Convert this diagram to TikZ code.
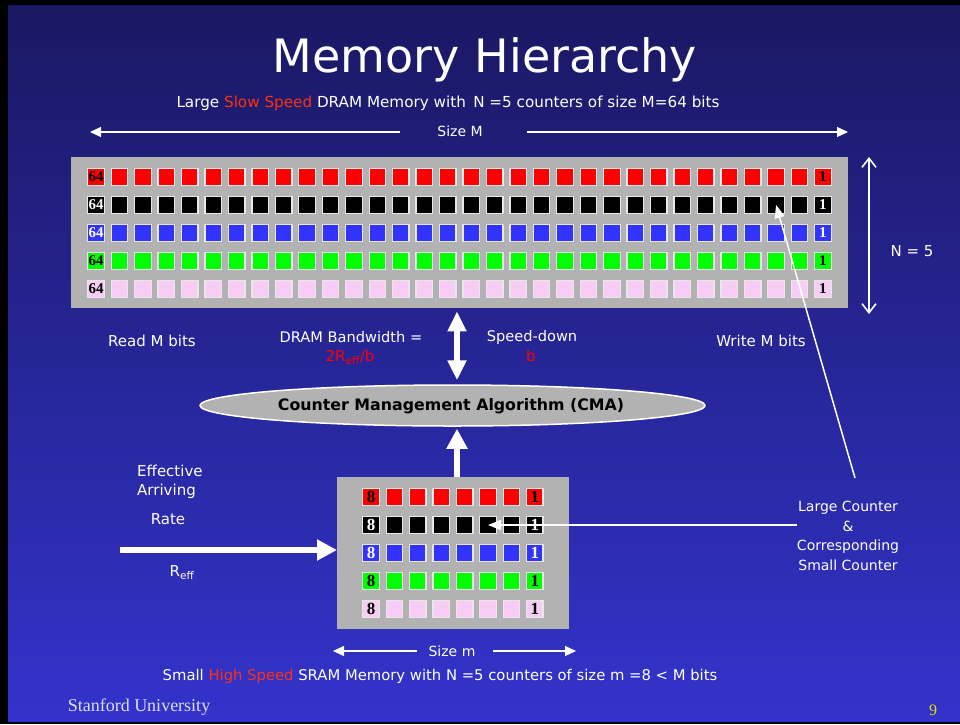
\documentclass[tikz,border=0pt]{standalone}
\usepackage{fontspec}
\setmainfont{DejaVu Sans}
\newfontfamily\serifb{Liberation Serif}
\usetikzlibrary{arrows.meta,shapes.geometric,calc}
\definecolor{navtop}{RGB}{26,24,98}
\definecolor{navbot}{RGB}{51,51,204}
\definecolor{boxgray}{RGB}{178,178,178}
\definecolor{cred}{RGB}{255,0,0}
\definecolor{cblue}{RGB}{51,51,255}
\definecolor{cgreen}{RGB}{0,255,0}
\definecolor{cpink}{RGB}{247,204,245}
\definecolor{cellborder}{RGB}{232,232,232}
\definecolor{hotred}{RGB}{255,48,16}
\definecolor{foot}{RGB}{222,222,240}
\definecolor{pagenum}{RGB}{224,224,0}
\tikzset{
  txt/.style={text=white, inner sep=0pt, font=\fontsize{15}{17}\selectfont},
  cellbox/.style={draw=cellborder, line width=1.3pt, minimum size=16.5pt, inner sep=0pt},
  celltxt/.style={inner sep=0pt, font=\serifb\bfseries\fontsize{15}{15}\selectfont},
  bigarrow/.style={draw=white, line width=5.5pt, -{Triangle[length=20pt,width=20pt]}},
  thinarrow/.style={draw=white, line width=1.5pt, -{Triangle[length=13pt,width=10pt]}},
  sizearrow/.style={draw=white, line width=1.2pt, -{Triangle[length=11pt,width=10pt]}},
  barbarrow/.style={draw=white, line width=1.6pt, {Straight Barb[length=9pt,width=14pt]}-{Straight Barb[length=9pt,width=14pt]}}
}
\begin{document}
\begin{tikzpicture}[x=1pt,y=-1pt]
\useasboundingbox (0,0) rectangle (960,724);
\fill[black] (0,0) rectangle (960,724);
\shade[top color=navtop, bottom color=navbot] (8,5) rectangle (960,721);

% title and header
\node[txt, font=\fontsize{46}{50}\selectfont] (title) at (485,60) {Memory Hierarchy};
\node[txt, font=\fontsize{15.2}{17}\selectfont] (sub) at (448,103) {Large \textcolor{hotred}{Slow Speed} DRAM Memory with\, N =5 counters of size M=64 bits};
\node[txt, font=\fontsize{14}{17}\selectfont] (sizeM) at (460,131) {Size M};
\coordinate (smL1) at (400,132);
\coordinate (smL2) at (90,132);
\coordinate (smR1) at (527,132);
\coordinate (smR2) at (848,132);
\draw[sizearrow] (smL1) -- (smL2);
\draw[sizearrow] (smR1) -- (smR2);

% DRAM box
\node[fill=boxgray, minimum width=777pt, minimum height=151pt, anchor=north west, inner sep=0pt] (dram) at (71,157) {};
\foreach \r/\fc/\tc in {0/cred/black, 1/black/white, 2/cblue/white, 3/cgreen/black, 4/cpink/black} {
  \foreach \c in {0,...,31} {
    \node[cellbox, fill=\fc] (d-\r-\c) at ({96+23.45*\c},{177+28*\r}) {};
  }
  \node[celltxt, text=\tc] (dl-\r) at (d-\r-0) {64};
  \node[celltxt, text=\tc] (dr-\r) at (d-\r-31) {1};
}

% N = 5
\coordinate (n1) at (869,157);
\coordinate (n2) at (869,314);
\draw[barbarrow] (n1) -- (n2);
\node[txt] (nfive) at (912,251) {N = 5};

% middle labels
\node[txt] (readM) at (152,341) {Read M bits};
\node[txt, font=\fontsize{14.6}{17}\selectfont] (bw) at (351,337) {DRAM Bandwidth =};
\node[txt, text=cred] (bw2) at (350,357) {2R\textsubscript{eff}/b};
\node[txt, font=\fontsize{14.6}{17}\selectfont] (sd) at (532,337) {Speed-down};
\node[txt, text=cred] (sdb) at (531,356) {b};
\node[txt] (writeM) at (761,341) {Write M bits};

% CMA
\node[ellipse, draw=white, line width=1.5pt, fill=boxgray, minimum width=505pt, minimum height=41pt, inner sep=0pt] (cma) at (452.5,405.5) {};
\node[inner sep=0pt, font=\bfseries\fontsize{15.8}{17}\selectfont, text=black] (cmat) at (451,406) {Counter Management Algorithm (CMA)};

% SRAM box
\node[fill=boxgray, minimum width=232pt, minimum height=152pt, anchor=north west, inner sep=0pt] (sram) at (337,477) {};
\foreach \r/\fc/\tc in {0/cred/black, 1/black/white, 2/cblue/white, 3/cgreen/black, 4/cpink/black} {
  \foreach \c in {0,...,7} {
    \node[cellbox, fill=\fc] (s-\r-\c) at ({371+23.4*\c},{497+28*\r}) {};
  }
  \node[celltxt, text=\tc, font=\serifb\bfseries\fontsize{17}{17}\selectfont] (sl-\r) at (s-\r-0) {8};
  \node[celltxt, text=\tc, font=\serifb\bfseries\fontsize{17}{17}\selectfont] (sr-\r) at (s-\r-7) {1};
}

% thick arrows
\coordinate (ax) at (457,0);
\draw[bigarrow, {Triangle[length=20pt,width=18pt]}-{Triangle[length=20pt,width=18pt]}, shorten <=3pt, shorten >=4pt] (dram.south -| ax) -- (cma.north -| ax);
\draw[bigarrow, shorten >=2pt] (sram.north -| ax) -- (cma.south -| ax);
\coordinate (rin) at (120,550);
\draw[bigarrow] (rin) -- (sram.west |- rin);

% left labels
\node[txt, anchor=west] (eff) at (137,471) {Effective};
\node[txt, anchor=west] (arr) at (137,491) {Arriving};
\node[txt] (rate) at (168,519) {Rate};
\node[txt] (reff) at (182,573) {R\textsubscript{eff}};

% right label
\node[txt, align=center, font=\fontsize{14}{19.5}\selectfont] (lc) at (848,536) {Large Counter\\\&\\Corresponding\\Small Counter};
\draw[thinarrow] (lc.west |- s-1-5) -- (s-1-5.center);
\coordinate (lctop) at (855,478);
\draw[thinarrow] (lctop) -- (d-1-29.center);

% bottom
\node[txt, font=\fontsize{14}{17}\selectfont] (sizem) at (452,651) {Size m};
\coordinate (bmL1) at (417,651);
\coordinate (bmL2) at (333,651);
\coordinate (bmR1) at (493,651);
\coordinate (bmR2) at (576,651);
\draw[sizearrow] (bmL1) -- (bmL2);
\draw[sizearrow] (bmR1) -- (bmR2);
\node[txt, font=\fontsize{14.8}{17}\selectfont] (bot) at (440,676) {Small \textcolor{hotred}{High Speed} SRAM Memory with N =5 counters of size m =8 < M bits};
\node[inner sep=0pt, text=foot, font=\serifb\fontsize{18}{20}\selectfont] (stan) at (139,707) {Stanford University};
\node[inner sep=0pt, text=pagenum, font=\serifb\fontsize{16}{19}\selectfont] (pg) at (933,710) {9};
\end{tikzpicture}
\end{document}
